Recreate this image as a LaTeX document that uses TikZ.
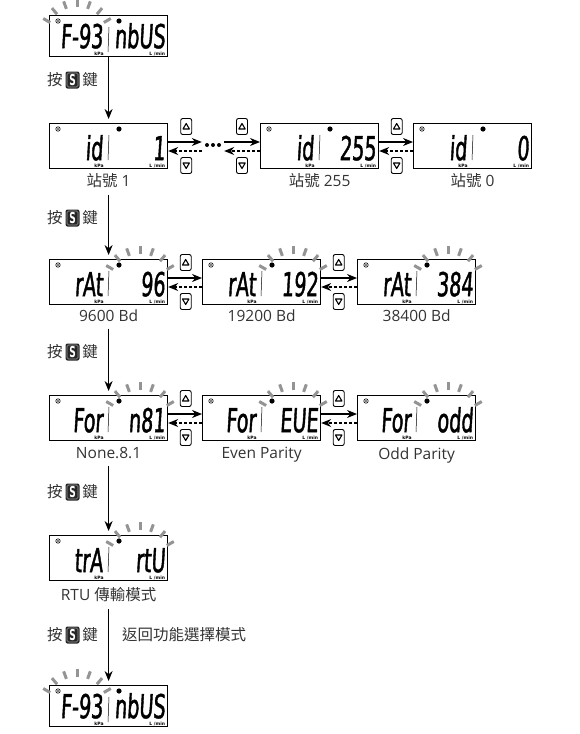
\documentclass[tikz,border=0pt]{standalone}
\usepackage{fontspec}
\setmainfont{Open Sans}
\newfontfamily\cjk{Noto Sans CJK TC}
\newfontfamily\lcdfont{DejaVu Sans}[FakeStretch=0.58,FakeSlant=0.06,FakeBold=1.2]
\newfontfamily\keyfont{DejaVu Sans}[FakeStretch=0.6]
\newfontfamily\unitfont{DejaVu Sans}
\usetikzlibrary{arrows.meta,positioning}

\tikzset{
  lcdbox/.style={draw,line width=1.2pt,minimum width=118pt,minimum height=45pt,inner sep=0pt},
  lcdtext/.style={inner sep=0pt,font=\lcdfont\fontsize{33}{33}\selectfont},
  unit/.style={inner sep=0pt,font=\unitfont\bfseries\fontsize{4.5}{5}\selectfont},
  ray/.style={line width=3pt,black!42},
  caption/.style={inner sep=0pt,text=black!80,font=\normalfont\fontsize{15.5}{18}\selectfont},
  flow/.style={->,line width=1.1pt,shorten >=4pt},
  fwd/.style={->,line width=1.1pt},
  back/.style={->,line width=1.1pt,dash pattern=on 3pt off 2pt},
  keycap/.style={fill=black!85,rounded corners=2pt,minimum width=14pt,minimum height=17pt,
    inner sep=0pt,text=white,font=\keyfont\bfseries\fontsize{15}{15}\selectfont,
    path picture={\draw[black!40,line width=0.6pt,rounded corners=1.5pt]
      ([shift={(1.5pt,1.5pt)}]path picture bounding box.south west) rectangle
      ([shift={(-1.5pt,-1.5pt)}]path picture bounding box.north east);}},
  btn/.style={draw,line width=0.9pt,rounded corners=2pt,minimum width=11pt,minimum height=16pt,inner sep=0pt},
  btnup/.style={btn,path picture={\draw[line width=1.1pt,sharp corners,line join=round]
      ([shift={(-3.2pt,-2.5pt)}]path picture bounding box.center) -- ++(6.4pt,0pt) -- ++(-3.2pt,5.5pt) -- cycle;}},
  btndown/.style={btn,path picture={\draw[line width=1.1pt,sharp corners,line join=round]
      ([shift={(-3.2pt,2.5pt)}]path picture bounding box.center) -- ++(6.4pt,0pt) -- ++(-3.2pt,-5.5pt) -- cycle;}},
}

% one LCD panel: [box options]{name}{top left}{left text}{right text}
\newcommand{\lcdpanel}[5][]{%
  \node[lcdbox,anchor=north west,#1] (#2) at (#3) {};
  \draw[line width=0.6pt] ([xshift=9pt,yshift=-6pt]#2.north west) circle (2.2pt);
  \fill ([xshift=9pt,yshift=-6pt]#2.north west) circle (0.8pt);
  \fill ([xshift=70pt,yshift=-6pt]#2.north west) circle (2.6pt);
  \draw[line width=0.5pt] ([xshift=60pt,yshift=-12pt]#2.north west) -- ([xshift=59pt,yshift=-37pt]#2.north west);
  \node[unit] (#2kpa) at ([xshift=50pt,yshift=3pt]#2.south west) {kPa};
  \node[unit,anchor=east] (#2lmin) at ([xshift=-3pt,yshift=3pt]#2.south east) {L /min};
  \node[lcdtext,anchor=base east] (#2left) at ([xshift=54pt,yshift=9pt]#2.south west) {#4};
  \node[lcdtext,anchor=base east] (#2right) at ([xshift=-3pt,yshift=9pt]#2.south east) {#5};
}

% blinking marks round a point
\newcommand{\blinkrays}[1]{%
  \foreach \a in {30,50,...,150}
    {\draw[ray] (#1) ++(\a:31pt) -- ++(\a:8pt);}
}

% arrows and up/down keys between two panels
\newcommand{\swap}[2]{%
  \draw[fwd] ([yshift=-19pt]#1.north east) -- ([yshift=-19pt]#2.north west);
  \draw[back] ([yshift=-28pt]#2.north west) -- ([yshift=-28pt]#1.north east);
  \node[btnup] (#1up) at ([xshift=17.5pt,yshift=-3.5pt]#1.north east) {};
  \node[btndown] (#1dn) at ([xshift=17.5pt,yshift=-42.5pt]#1.north east) {};
}

\begin{document}
\begin{tikzpicture}[x=1pt,y=-1pt,>={Stealth[length=10pt,width=8pt]}]
  \useasboundingbox (0,0) rectangle (580,734);

  % Top
  \lcdpanel[minimum height=41pt]{top}{49,15}{F-93}{nbUS}

  % Station number
  \lcdpanel{id1}{49,123}{id}{1}
  \lcdpanel{id255}{260,123}{id}{255}
  \lcdpanel{id0}{413,123}{id}{0}
  \node[caption,below=4pt of id1] (id1lbl) {{\cjk 站號} 1};
  \node[caption,below=4pt of id255] (id255lbl) {{\cjk 站號} 255};
  \node[caption,below=4pt of id0] (id0lbl) {{\cjk 站號} 0};

  \node[minimum width=22pt,minimum height=4pt,inner sep=0pt] (dots) at (213,145) {};
  \foreach \i in {-6,0,6}
    {\fill ([xshift=\i pt]dots.center) circle (2pt);}
  \draw[fwd] ([yshift=-19pt]id1.north east) -- ([yshift=-19pt]id1.north east -| dots.west);
  \draw[back] ([yshift=-28pt]id1.north east -| dots.west) -- ([yshift=-28pt]id1.north east);
  \draw[fwd] ([yshift=-19pt]id255.north west -| dots.east) -- ([yshift=-19pt]id255.north west);
  \draw[back] ([yshift=-28pt]id255.north west) -- ([yshift=-28pt]id255.north west -| dots.east);
  \node[btnup] (id1up) at ([xshift=18pt,yshift=-3.5pt]id1.north east) {};
  \node[btndown] (id1dn) at ([xshift=18pt,yshift=-42.5pt]id1.north east) {};
  \node[btnup] (dotsup) at ([xshift=-18pt,yshift=-3.5pt]id255.north west) {};
  \node[btndown] (dotsdn) at ([xshift=-18pt,yshift=-42.5pt]id255.north west) {};
  \swap{id255}{id0}

  % Baud rate
  \lcdpanel{rat1}{49,259}{rAt}{96}
  \lcdpanel{rat2}{202,259}{rAt}{192}
  \lcdpanel{rat3}{357,259}{rAt}{384}
  \node[caption,below=4pt of rat1] (rat1lbl) {9600 Bd};
  \node[caption,below=4pt of rat2] (rat2lbl) {19200 Bd};
  \node[caption,below=4pt of rat3] (rat3lbl) {38400 Bd};
  \swap{rat1}{rat2}
  \swap{rat2}{rat3}

  % Format
  \lcdpanel{for1}{49,395}{For}{n81}
  \lcdpanel{for2}{202,395}{For}{EUE}
  \lcdpanel{for3}{357,395}{For}{odd}
  \node[caption,below=6pt of for1] (for1lbl) {None.8.1};
  \node[caption,below=6pt of for2] (for2lbl) {Even Parity};
  \node[caption,below=6pt of for3] (for3lbl) {Odd Parity};
  \swap{for1}{for2}
  \swap{for2}{for3}

  % Transmission mode
  \lcdpanel{tra}{49,535}{trA}{rtU}
  \node[caption,below=6pt of tra] (tralbl) {RTU {\cjk 傳輸模式}};

  % Bottom
  \lcdpanel[minimum height=41pt]{bot}{49,685}{F-93}{nbUS}

  % S key
  \foreach \n/\y in {1/80,2/218,3/352,4/492,5/635} {
    \node[keycap] (key\n) at (72.5,\y) {S};
    \node[caption,left=2.5pt of key\n] (press\n) {\cjk 按};
    \node[caption,right=2.5pt of key\n] (keyword\n) {\cjk 鍵};
  }
  \node[caption,anchor=west] (retlbl) at (122,635) {\cjk 返回功能選擇模式};

  \draw[flow] (top) -- (id1);
  \draw[flow,shorten <=7pt] (id1lbl) -- (rat1);
  \draw[flow,shorten <=7pt] (rat1lbl) -- (for1);
  \draw[flow,shorten <=7pt] (for1lbl) -- (tra);
  \draw[flow,shorten <=7pt] (tralbl) -- (bot);

  % Blinking
  \foreach \p in {top,bot}
    {\blinkrays{[xshift=28pt,yshift=-23pt]\p.north west}}
  \foreach \p in {rat1,rat2,rat3,for1,for2,for3,tra}
    {\blinkrays{[xshift=91pt,yshift=-26pt]\p.north west}}
\end{tikzpicture}
\end{document}
